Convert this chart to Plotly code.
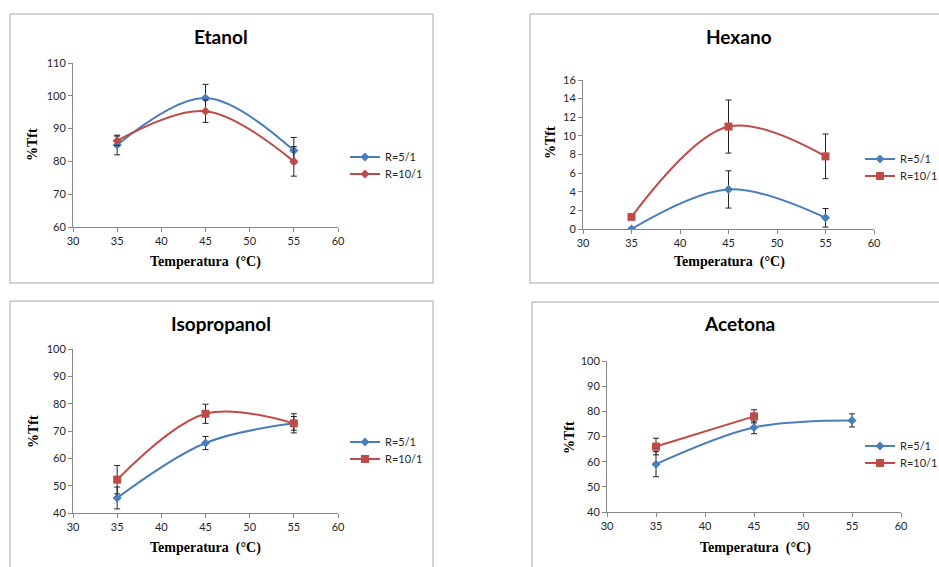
import plotly.graph_objects as go

# Temperature levels (°C)
temps = [35, 45, 55]

# %Tft per solvent, two solvent/solid ratios, with standard deviations
etanol_r5 = [85.0, 99.3, 83.3]
etanol_r5_err = [3.0, 4.2, 4.0]
etanol_r10 = [86.3, 95.3, 80.0]
etanol_r10_err = [1.4, 3.4, 4.5]

hexano_r5 = [0.0, 4.25, 1.2]
hexano_r5_err = [0.0, 2.0, 1.0]
hexano_r10 = [1.3, 11.0, 7.8]
hexano_r10_err = [0.2, 2.85, 2.4]

isoprop_r5 = [45.5, 65.6, 72.8]
isoprop_r5_err = [4.0, 2.4, 3.5]
isoprop_r10 = [52.2, 76.3, 72.8]
isoprop_r10_err = [5.2, 3.5, 2.5]

acetona_temps_r10 = [35, 45]
acetona_r5 = [59.0, 73.6, 76.4]
acetona_r5_err = [5.0, 2.5, 2.6]
acetona_r10 = [66.0, 78.0]
acetona_r10_err = [3.3, 2.6]

series_names = ["R=5/1", "R=10/1"]
panel_titles = ["Etanol", "Hexano", "Isopropanol", "Acetona"]
x_title = "Temperatura  (°C)"
y_title = "%Tft"

BLUE = "#4A7EBB"
RED = "#BE4B48"
W, H = 939, 567


def px_x(p):
    return p / W


def px_y(p):
    return 1 - p / H


fig = go.Figure()

# plot areas in pixels: (left, right, top, bottom), y ranges, dticks,
# legend entry anchors (left x, centre y of each entry)
panels = [
    dict(box=(10, 433, 14, 283), area=(73, 338, 63, 227), yr=[60, 110], dt=10,
         title=(221, 36), ytitle=(33, 145), xtitle=(205, 262), leg=(345, [157, 174])),
    dict(box=(530, 945, 14, 283), area=(583, 874, 80, 229), yr=[0, 16], dt=2,
         title=(739, 36), ytitle=(550, 143), xtitle=(729, 262), leg=(860, [159, 176])),
    dict(box=(10, 433, 301, 575), area=(73, 338, 349, 513), yr=[40, 100], dt=10,
         title=(221, 323), ytitle=(33, 432), xtitle=(205, 548), leg=(345, [442, 459])),
    dict(box=(532, 945, 302, 575), area=(607, 901, 361, 512), yr=[40, 100], dt=10,
         title=(739, 323), ytitle=(569, 438), xtitle=(755, 548), leg=(860, [446, 463])),
]

series = [
    (1, temps, etanol_r5, etanol_r5_err, 0, BLUE, "diamond", 7),
    (1, temps, etanol_r10, etanol_r10_err, 1, RED, "diamond", 7),
    (2, temps, hexano_r5, hexano_r5_err, 0, BLUE, "diamond", 7),
    (2, temps, hexano_r10, hexano_r10_err, 1, RED, "square", 8),
    (3, temps, isoprop_r5, isoprop_r5_err, 0, BLUE, "diamond", 7),
    (3, temps, isoprop_r10, isoprop_r10_err, 1, RED, "square", 8),
    (4, temps, acetona_r5, acetona_r5_err, 0, BLUE, "diamond", 7),
    (4, acetona_temps_r10, acetona_r10, acetona_r10_err, 1, RED, "square", 8),
]

layout = {}
legend_font = dict(family="Lato, Open Sans, sans-serif", size=11, color="#262626")

for k, (idx, x, y, err, s, color, symbol, size) in enumerate(series, start=1):
    suffix = "" if idx == 1 else str(idx)
    leg_name = "legend" if k == 1 else "legend%d" % k
    fig.add_trace(go.Scatter(
        x=x, y=y, name=series_names[s], mode="lines+markers",
        line=dict(color=color, width=2, shape="spline", smoothing=1.0),
        marker=dict(symbol=symbol, size=size, color=color),
        error_y=dict(type="data", array=err, visible=True,
                     color="#222222", thickness=1, width=3),
        xaxis="x" + suffix, yaxis="y" + suffix, legend=leg_name,
    ))
    lx, lys = panels[idx - 1]["leg"]
    layout[leg_name] = dict(
        x=px_x(lx), y=px_y(lys[s]), xanchor="left", yanchor="middle",
        bgcolor="rgba(0,0,0,0)", font=legend_font, itemwidth=30,
        borderwidth=0,
    )

tick_font = dict(family="Lato, Open Sans, sans-serif", size=11, color="#262626")
axis_common = dict(
    showgrid=False, zeroline=False, showline=True, linecolor="#888888",
    linewidth=1, ticks="outside", ticklen=4, tickcolor="#888888",
    tickfont=tick_font, fixedrange=True,
)

shapes = []
annotations = []
for i, p in enumerate(panels, start=1):
    suffix = "" if i == 1 else str(i)
    l, r, t, b = p["area"]
    layout["xaxis" + suffix] = dict(
        axis_common, domain=[px_x(l), px_x(r)], range=[30, 60], dtick=5, tick0=30,
        anchor="y" + suffix,
    )
    layout["yaxis" + suffix] = dict(
        axis_common, domain=[px_y(b), px_y(t)], range=p["yr"], dtick=p["dt"],
        anchor="x" + suffix,
    )
    bl, br, bt, bb = p["box"]
    shapes.append(dict(type="rect", xref="paper", yref="paper",
                       x0=px_x(bl), x1=px_x(br), y0=px_y(bb), y1=px_y(bt),
                       line=dict(color="#A6A6A6", width=1)))
    annotations.append(dict(text="<b>%s</b>" % panel_titles[i - 1], xref="paper", yref="paper",
                            x=px_x(p["title"][0]), y=px_y(p["title"][1]),
                            xanchor="center", yanchor="middle", showarrow=False,
                            font=dict(family="Lato, Open Sans, sans-serif", size=19, color="#000")))
    annotations.append(dict(text="<b>%s</b>" % y_title, xref="paper", yref="paper",
                            x=px_x(p["ytitle"][0]), y=px_y(p["ytitle"][1]),
                            xanchor="center", yanchor="middle", showarrow=False, textangle=-90,
                            font=dict(family="Liberation Serif, serif", size=14, color="#000")))
    annotations.append(dict(text="<b>%s</b>" % x_title, xref="paper", yref="paper",
                            x=px_x(p["xtitle"][0]), y=px_y(p["xtitle"][1]),
                            xanchor="center", yanchor="middle", showarrow=False,
                            font=dict(family="Liberation Serif, serif", size=14, color="#000")))

fig.update_layout(
    width=W, height=H, margin=dict(l=0, r=0, t=0, b=0, autoexpand=False),
    paper_bgcolor="white", plot_bgcolor="white",
    showlegend=True, shapes=shapes, annotations=annotations,
    **layout,
)

fig.write_html("out.html")
